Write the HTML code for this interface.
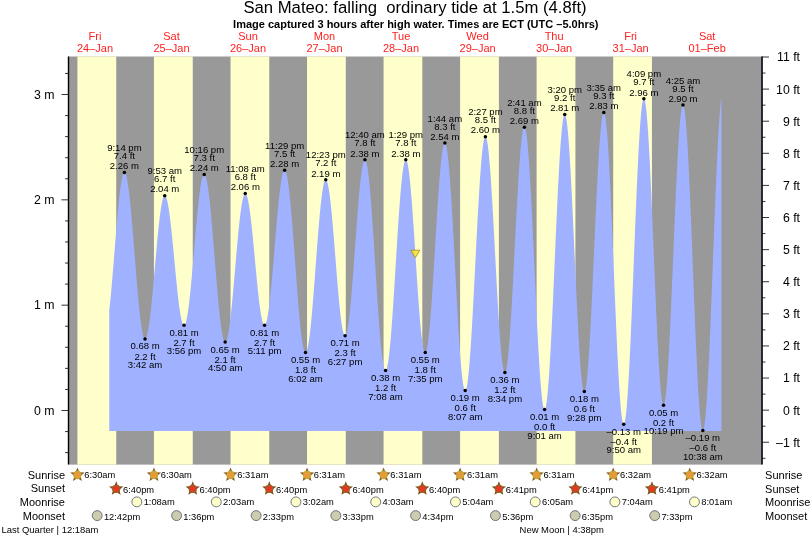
<!DOCTYPE html>
<html lang="en"><head><meta charset="utf-8"><title>San Mateo tide chart</title>
<style>html,body{margin:0;padding:0;background:#fff;}body{width:812px;height:538px;overflow:hidden;font-family:"Liberation Sans", Arial, Helvetica, sans-serif;}svg text{white-space:pre;}</style>
</head><body>
<svg width="812" height="538" viewBox="0 0 812 538" font-family='"Liberation Sans", Arial, Helvetica, sans-serif' style="display:block">
<rect width="812" height="538" fill="#fff"/>
<rect x="68.5" y="56.5" width="693.5" height="408.1" fill="#999"/>
<rect x="77.43" y="56.5" width="38.79" height="408.1" fill="#ffffcc"/>
<rect x="153.95" y="56.5" width="38.79" height="408.1" fill="#ffffcc"/>
<rect x="230.53" y="56.5" width="38.74" height="408.1" fill="#ffffcc"/>
<rect x="307.05" y="56.5" width="38.74" height="408.1" fill="#ffffcc"/>
<rect x="383.57" y="56.5" width="38.74" height="408.1" fill="#ffffcc"/>
<rect x="460.10" y="56.5" width="38.79" height="408.1" fill="#ffffcc"/>
<rect x="536.62" y="56.5" width="38.79" height="408.1" fill="#ffffcc"/>
<rect x="613.20" y="56.5" width="38.74" height="408.1" fill="#ffffcc"/>
<path d="M109.26,431.01 L109.26,310.30 L109.64,306.92 L110.02,303.35 L110.40,299.58 L110.79,295.64 L111.17,291.55 L111.55,287.31 L111.94,282.93 L112.32,278.45 L112.70,273.87 L113.08,269.21 L113.47,264.48 L113.85,259.71 L114.23,254.92 L114.61,250.11 L115.00,245.31 L115.38,240.53 L115.76,235.79 L116.14,231.12 L116.53,226.52 L116.91,222.01 L117.29,217.61 L117.67,213.34 L118.06,209.21 L118.44,205.24 L118.82,201.43 L119.21,197.81 L119.59,194.39 L119.97,191.18 L120.35,188.20 L120.74,185.44 L121.12,182.93 L121.50,180.67 L121.88,178.67 L122.27,176.95 L122.65,175.49 L123.03,174.31 L123.41,173.42 L123.80,172.82 L124.18,172.50 L124.56,172.48 L124.94,172.74 L125.33,173.28 L125.71,174.10 L126.09,175.20 L126.48,176.57 L126.86,178.21 L127.24,180.11 L127.62,182.27 L128.01,184.68 L128.39,187.33 L128.77,190.21 L129.15,193.32 L129.54,196.64 L129.92,200.15 L130.30,203.86 L130.68,207.74 L131.07,211.79 L131.45,215.98 L131.83,220.31 L132.21,224.76 L132.60,229.31 L132.98,233.95 L133.36,238.67 L133.74,243.45 L134.13,248.26 L134.51,253.11 L134.89,257.96 L135.28,262.80 L135.66,267.62 L136.04,272.39 L136.42,277.11 L136.81,281.76 L137.19,286.32 L137.57,290.78 L137.95,295.11 L138.34,299.31 L138.72,303.37 L139.10,307.26 L139.48,310.98 L139.87,314.50 L140.25,317.83 L140.63,320.95 L141.01,323.84 L141.40,326.51 L141.78,328.93 L142.16,331.10 L142.55,333.02 L142.93,334.68 L143.31,336.06 L143.69,337.18 L144.08,338.01 L144.46,338.57 L144.84,338.84 L145.22,338.84 L145.61,338.57 L145.99,338.03 L146.37,337.23 L146.75,336.16 L147.14,334.85 L147.52,333.28 L147.90,331.46 L148.28,329.41 L148.67,327.13 L149.05,324.62 L149.43,321.90 L149.81,318.98 L150.20,315.86 L150.58,312.57 L150.96,309.11 L151.35,305.49 L151.73,301.72 L152.11,297.84 L152.49,293.83 L152.88,289.73 L153.26,285.54 L153.64,281.29 L154.02,276.99 L154.41,272.64 L154.79,268.28 L155.17,263.92 L155.55,259.56 L155.94,255.24 L156.32,250.96 L156.70,246.74 L157.08,242.60 L157.47,238.54 L157.85,234.60 L158.23,230.78 L158.62,227.09 L159.00,223.55 L159.38,220.17 L159.76,216.97 L160.15,213.96 L160.53,211.14 L160.91,208.53 L161.29,206.14 L161.68,203.98 L162.06,202.05 L162.44,200.37 L162.82,198.93 L163.21,197.75 L163.59,196.82 L163.97,196.16 L164.35,195.76 L164.74,195.63 L165.12,195.75 L165.50,196.13 L165.88,196.76 L166.27,197.63 L166.65,198.75 L167.03,200.10 L167.42,201.69 L167.80,203.51 L168.18,205.55 L168.56,207.80 L168.95,210.26 L169.33,212.91 L169.71,215.74 L170.09,218.75 L170.48,221.92 L170.86,225.24 L171.24,228.70 L171.62,232.28 L172.01,235.97 L172.39,239.75 L172.77,243.61 L173.15,247.54 L173.54,251.52 L173.92,255.53 L174.30,259.56 L174.69,263.60 L175.07,267.62 L175.45,271.62 L175.83,275.57 L176.22,279.46 L176.60,283.28 L176.98,287.01 L177.36,290.63 L177.75,294.14 L178.13,297.52 L178.51,300.76 L178.89,303.83 L179.28,306.74 L179.66,309.47 L180.04,312.01 L180.42,314.35 L180.81,316.48 L181.19,318.39 L181.57,320.07 L181.95,321.53 L182.34,322.74 L182.72,323.72 L183.10,324.45 L183.49,324.93 L183.87,325.16 L184.25,325.14 L184.63,324.85 L185.02,324.29 L185.40,323.48 L185.78,322.40 L186.16,321.06 L186.55,319.47 L186.93,317.64 L187.31,315.57 L187.69,313.26 L188.08,310.73 L188.46,307.98 L188.84,305.03 L189.22,301.88 L189.61,298.55 L189.99,295.04 L190.37,291.38 L190.76,287.56 L191.14,283.62 L191.52,279.55 L191.90,275.38 L192.29,271.12 L192.67,266.79 L193.05,262.39 L193.43,257.95 L193.82,253.48 L194.20,249.00 L194.58,244.52 L194.96,240.06 L195.35,235.64 L195.73,231.26 L196.11,226.95 L196.49,222.73 L196.88,218.60 L197.26,214.58 L197.64,210.68 L198.02,206.92 L198.41,203.32 L198.79,199.88 L199.17,196.62 L199.56,193.55 L199.94,190.67 L200.32,188.01 L200.70,185.56 L201.09,183.34 L201.47,181.36 L201.85,179.62 L202.23,178.13 L202.62,176.90 L203.00,175.92 L203.38,175.20 L203.76,174.75 L204.15,174.57 L204.53,174.65 L204.91,175.01 L205.29,175.64 L205.68,176.55 L206.06,177.73 L206.44,179.17 L206.83,180.87 L207.21,182.83 L207.59,185.03 L207.97,187.48 L208.36,190.16 L208.74,193.07 L209.12,196.19 L209.50,199.51 L209.89,203.03 L210.27,206.73 L210.65,210.60 L211.03,214.63 L211.42,218.80 L211.80,223.10 L212.18,227.52 L212.56,232.04 L212.95,236.65 L213.33,241.32 L213.71,246.06 L214.09,250.83 L214.48,255.63 L214.86,260.43 L215.24,265.23 L215.63,270.01 L216.01,274.75 L216.39,279.43 L216.77,284.05 L217.16,288.58 L217.54,293.01 L217.92,297.32 L218.30,301.51 L218.69,305.55 L219.07,309.44 L219.45,313.16 L219.83,316.70 L220.22,320.05 L220.60,323.19 L220.98,326.12 L221.36,328.83 L221.75,331.30 L222.13,333.53 L222.51,335.52 L222.90,337.25 L223.28,338.72 L223.66,339.93 L224.04,340.86 L224.43,341.53 L224.81,341.92 L225.19,342.03 L225.57,341.88 L225.96,341.46 L226.34,340.78 L226.72,339.83 L227.10,338.63 L227.49,337.17 L227.87,335.46 L228.25,333.52 L228.63,331.33 L229.02,328.92 L229.40,326.29 L229.78,323.45 L230.17,320.42 L230.55,317.19 L230.93,313.79 L231.31,310.22 L231.70,306.50 L232.08,302.64 L232.46,298.66 L232.84,294.56 L233.23,290.37 L233.61,286.10 L233.99,281.77 L234.37,277.38 L234.76,272.96 L235.14,268.52 L235.52,264.08 L235.90,259.65 L236.29,255.25 L236.67,250.89 L237.05,246.60 L237.43,242.38 L237.82,238.25 L238.20,234.23 L238.58,230.33 L238.97,226.56 L239.35,222.94 L239.73,219.48 L240.11,216.19 L240.50,213.09 L240.88,210.19 L241.26,207.49 L241.64,205.00 L242.03,202.74 L242.41,200.71 L242.79,198.93 L243.17,197.39 L243.56,196.10 L243.94,195.07 L244.32,194.30 L244.70,193.79 L245.09,193.54 L245.47,193.56 L245.85,193.84 L246.24,194.37 L246.62,195.15 L247.00,196.19 L247.38,197.46 L247.77,198.98 L248.15,200.73 L248.53,202.71 L248.91,204.91 L249.30,207.32 L249.68,209.94 L250.06,212.74 L250.44,215.73 L250.83,218.88 L251.21,222.19 L251.59,225.65 L251.97,229.24 L252.36,232.94 L252.74,236.75 L253.12,240.64 L253.50,244.61 L253.89,248.63 L254.27,252.70 L254.65,256.79 L255.04,260.89 L255.42,264.98 L255.80,269.06 L256.18,273.09 L256.57,277.08 L256.95,280.99 L257.33,284.82 L257.71,288.55 L258.10,292.17 L258.48,295.66 L258.86,299.01 L259.24,302.20 L259.63,305.23 L260.01,308.08 L260.39,310.74 L260.77,313.21 L261.16,315.46 L261.54,317.49 L261.92,319.30 L262.31,320.88 L262.69,322.22 L263.07,323.31 L263.45,324.16 L263.84,324.75 L264.22,325.09 L264.60,325.18 L264.98,324.99 L265.37,324.53 L265.75,323.80 L266.13,322.79 L266.51,321.51 L266.90,319.97 L267.28,318.17 L267.66,316.12 L268.04,313.82 L268.43,311.29 L268.81,308.53 L269.19,305.56 L269.57,302.37 L269.96,298.99 L270.34,295.43 L270.72,291.69 L271.11,287.80 L271.49,283.77 L271.87,279.61 L272.25,275.33 L272.64,270.95 L273.02,266.49 L273.40,261.97 L273.78,257.39 L274.17,252.78 L274.55,248.15 L274.93,243.52 L275.31,238.91 L275.70,234.32 L276.08,229.79 L276.46,225.32 L276.84,220.92 L277.23,216.63 L277.61,212.45 L277.99,208.39 L278.38,204.47 L278.76,200.71 L279.14,197.12 L279.52,193.71 L279.91,190.49 L280.29,187.48 L280.67,184.68 L281.05,182.11 L281.44,179.78 L281.82,177.68 L282.20,175.84 L282.58,174.26 L282.97,172.94 L283.35,171.88 L283.73,171.10 L284.11,170.59 L284.50,170.36 L284.88,170.41 L285.26,170.77 L285.64,171.42 L286.03,172.37 L286.41,173.61 L286.79,175.15 L287.18,176.97 L287.56,179.07 L287.94,181.45 L288.32,184.09 L288.71,186.99 L289.09,190.13 L289.47,193.51 L289.85,197.11 L290.24,200.93 L290.62,204.94 L291.00,209.15 L291.38,213.53 L291.77,218.06 L292.15,222.74 L292.53,227.55 L292.91,232.47 L293.30,237.49 L293.68,242.59 L294.06,247.75 L294.45,252.95 L294.83,258.18 L295.21,263.42 L295.59,268.66 L295.98,273.87 L296.36,279.05 L296.74,284.16 L297.12,289.20 L297.51,294.14 L297.89,298.98 L298.27,303.69 L298.65,308.27 L299.04,312.69 L299.42,316.94 L299.80,321.00 L300.18,324.87 L300.57,328.53 L300.95,331.97 L301.33,335.17 L301.71,338.13 L302.10,340.83 L302.48,343.27 L302.86,345.44 L303.25,347.34 L303.63,348.94 L304.01,350.26 L304.39,351.29 L304.78,352.01 L305.16,352.44 L305.54,352.57 L305.92,352.39 L306.31,351.91 L306.69,351.13 L307.07,350.04 L307.45,348.67 L307.84,347.00 L308.22,345.04 L308.60,342.81 L308.98,340.31 L309.37,337.55 L309.75,334.54 L310.13,331.28 L310.52,327.80 L310.90,324.10 L311.28,320.19 L311.66,316.10 L312.05,311.83 L312.43,307.39 L312.81,302.82 L313.19,298.11 L313.58,293.29 L313.96,288.38 L314.34,283.39 L314.72,278.34 L315.11,273.24 L315.49,268.12 L315.87,262.99 L316.25,257.88 L316.64,252.79 L317.02,247.75 L317.40,242.78 L317.79,237.89 L318.17,233.10 L318.55,228.42 L318.93,223.88 L319.32,219.49 L319.70,215.26 L320.08,211.21 L320.46,207.35 L320.85,203.71 L321.23,200.28 L321.61,197.08 L321.99,194.13 L322.38,191.43 L322.76,189.00 L323.14,186.84 L323.52,184.96 L323.91,183.36 L324.29,182.05 L324.67,181.05 L325.05,180.34 L325.44,179.93 L325.82,179.83 L326.20,180.03 L326.59,180.53 L326.97,181.33 L327.35,182.43 L327.73,183.81 L328.12,185.48 L328.50,187.43 L328.88,189.65 L329.26,192.13 L329.65,194.87 L330.03,197.85 L330.41,201.06 L330.79,204.49 L331.18,208.13 L331.56,211.96 L331.94,215.96 L332.32,220.13 L332.71,224.44 L333.09,228.88 L333.47,233.43 L333.86,238.07 L334.24,242.80 L334.62,247.58 L335.00,252.39 L335.39,257.23 L335.77,262.07 L336.15,266.90 L336.53,271.69 L336.92,276.42 L337.30,281.09 L337.68,285.66 L338.06,290.13 L338.45,294.47 L338.83,298.67 L339.21,302.71 L339.59,306.58 L339.98,310.26 L340.36,313.74 L340.74,317.00 L341.12,320.03 L341.51,322.82 L341.89,325.36 L342.27,327.64 L342.66,329.65 L343.04,331.39 L343.42,332.83 L343.80,333.99 L344.19,334.86 L344.57,335.43 L344.95,335.69 L345.33,335.66 L345.72,335.30 L346.10,334.62 L346.48,333.62 L346.86,332.30 L347.25,330.67 L347.63,328.74 L348.01,326.51 L348.39,323.99 L348.78,321.20 L349.16,318.13 L349.54,314.80 L349.93,311.23 L350.31,307.42 L350.69,303.39 L351.07,299.16 L351.46,294.74 L351.84,290.15 L352.22,285.40 L352.60,280.51 L352.99,275.51 L353.37,270.40 L353.75,265.20 L354.13,259.95 L354.52,254.65 L354.90,249.32 L355.28,243.99 L355.66,238.67 L356.05,233.39 L356.43,228.15 L356.81,222.99 L357.19,217.92 L357.58,212.96 L357.96,208.13 L358.34,203.45 L358.73,198.93 L359.11,194.58 L359.49,190.43 L359.87,186.50 L360.26,182.79 L360.64,179.31 L361.02,176.09 L361.40,173.14 L361.79,170.45 L362.17,168.05 L362.55,165.95 L362.93,164.14 L363.32,162.64 L363.70,161.46 L364.08,160.59 L364.46,160.05 L364.85,159.82 L365.23,159.93 L365.61,160.40 L366.00,161.22 L366.38,162.40 L366.76,163.92 L367.14,165.79 L367.53,168.00 L367.91,170.53 L368.29,173.39 L368.67,176.56 L369.06,180.03 L369.44,183.79 L369.82,187.83 L370.20,192.13 L370.59,196.67 L370.97,201.45 L371.35,206.45 L371.73,211.64 L372.12,217.02 L372.50,222.56 L372.88,228.25 L373.26,234.06 L373.65,239.98 L374.03,245.98 L374.41,252.04 L374.80,258.16 L375.18,264.29 L375.56,270.43 L375.94,276.55 L376.33,282.63 L376.71,288.65 L377.09,294.60 L377.47,300.44 L377.86,306.16 L378.24,311.74 L378.62,317.17 L379.00,322.42 L379.39,327.47 L379.77,332.31 L380.15,336.92 L380.53,341.29 L380.92,345.40 L381.30,349.24 L381.68,352.79 L382.07,356.05 L382.45,358.99 L382.83,361.62 L383.21,363.92 L383.60,365.88 L383.98,367.50 L384.36,368.78 L384.74,369.70 L385.13,370.26 L385.51,370.47 L385.89,370.32 L386.27,369.79 L386.66,368.90 L387.04,367.64 L387.42,366.02 L387.80,364.04 L388.19,361.72 L388.57,359.05 L388.95,356.06 L389.33,352.74 L389.72,349.12 L390.10,345.20 L390.48,340.99 L390.87,336.52 L391.25,331.80 L391.63,326.85 L392.01,321.67 L392.40,316.30 L392.78,310.74 L393.16,305.03 L393.54,299.18 L393.93,293.20 L394.31,287.13 L394.69,280.98 L395.07,274.77 L395.46,268.53 L395.84,262.28 L396.22,256.04 L396.60,249.83 L396.99,243.67 L397.37,237.59 L397.75,231.61 L398.14,225.74 L398.52,220.01 L398.90,214.45 L399.28,209.06 L399.67,203.87 L400.05,198.89 L400.43,194.15 L400.81,189.66 L401.20,185.43 L401.58,181.49 L401.96,177.84 L402.34,174.50 L402.73,171.47 L403.11,168.78 L403.49,166.43 L403.87,164.42 L404.26,162.77 L404.64,161.48 L405.02,160.56 L405.40,160.00 L405.79,159.81 L406.17,160.00 L406.55,160.55 L406.94,161.47 L407.32,162.74 L407.70,164.38 L408.08,166.36 L408.47,168.69 L408.85,171.36 L409.23,174.34 L409.61,177.64 L410.00,181.24 L410.38,185.13 L410.76,189.28 L411.14,193.69 L411.53,198.34 L411.91,203.22 L412.29,208.29 L412.67,213.55 L413.06,218.97 L413.44,224.53 L413.82,230.21 L414.21,235.99 L414.59,241.85 L414.97,247.76 L415.35,253.71 L415.74,259.67 L416.12,265.61 L416.50,271.51 L416.88,277.36 L417.27,283.13 L417.65,288.79 L418.03,294.33 L418.41,299.72 L418.80,304.95 L419.18,309.99 L419.56,314.83 L419.94,319.44 L420.33,323.81 L420.71,327.92 L421.09,331.76 L421.48,335.31 L421.86,338.56 L422.24,341.49 L422.62,344.10 L423.01,346.37 L423.39,348.30 L423.77,349.88 L424.15,351.09 L424.54,351.95 L424.92,352.44 L425.30,352.56 L425.68,352.30 L426.07,351.65 L426.45,350.60 L426.83,349.17 L427.21,347.36 L427.60,345.17 L427.98,342.62 L428.36,339.71 L428.74,336.45 L429.13,332.87 L429.51,328.96 L429.89,324.75 L430.28,320.25 L430.66,315.47 L431.04,310.44 L431.42,305.18 L431.81,299.70 L432.19,294.03 L432.57,288.18 L432.95,282.18 L433.34,276.05 L433.72,269.82 L434.10,263.50 L434.48,257.12 L434.87,250.71 L435.25,244.29 L435.63,237.88 L436.01,231.50 L436.40,225.19 L436.78,218.96 L437.16,212.84 L437.55,206.86 L437.93,201.02 L438.31,195.36 L438.69,189.90 L439.08,184.66 L439.46,179.65 L439.84,174.90 L440.22,170.42 L440.61,166.23 L440.99,162.35 L441.37,158.79 L441.75,155.57 L442.14,152.69 L442.52,150.16 L442.90,148.01 L443.28,146.23 L443.67,144.83 L444.05,143.82 L444.43,143.19 L444.81,142.96 L445.20,143.14 L445.58,143.75 L445.96,144.79 L446.35,146.26 L446.73,148.14 L447.11,150.44 L447.49,153.14 L447.88,156.24 L448.26,159.73 L448.64,163.59 L449.02,167.81 L449.41,172.37 L449.79,177.26 L450.17,182.46 L450.55,187.96 L450.94,193.73 L451.32,199.76 L451.70,206.02 L452.08,212.49 L452.47,219.15 L452.85,225.98 L453.23,232.95 L453.62,240.03 L454.00,247.21 L454.38,254.46 L454.76,261.75 L455.15,269.06 L455.53,276.36 L455.91,283.63 L456.29,290.83 L456.68,297.96 L457.06,304.97 L457.44,311.85 L457.82,318.57 L458.21,325.12 L458.59,331.46 L458.97,337.57 L459.35,343.43 L459.74,349.03 L460.12,354.35 L460.50,359.35 L460.88,364.04 L461.27,368.38 L461.65,372.37 L462.03,375.99 L462.42,379.23 L462.80,382.08 L463.18,384.52 L463.56,386.56 L463.95,388.18 L464.33,389.37 L464.71,390.14 L465.09,390.47 L465.48,390.37 L465.86,389.82 L466.24,388.82 L466.62,387.38 L467.01,385.51 L467.39,383.20 L467.77,380.46 L468.15,377.31 L468.54,373.76 L468.92,369.82 L469.30,365.50 L469.69,360.82 L470.07,355.80 L470.45,350.45 L470.83,344.79 L471.22,338.85 L471.60,332.63 L471.98,326.18 L472.36,319.50 L472.75,312.62 L473.13,305.57 L473.51,298.37 L473.89,291.05 L474.28,283.63 L474.66,276.14 L475.04,268.60 L475.42,261.05 L475.81,253.50 L476.19,245.99 L476.57,238.55 L476.95,231.19 L477.34,223.94 L477.72,216.84 L478.10,209.90 L478.49,203.16 L478.87,196.62 L479.25,190.33 L479.63,184.29 L480.02,178.53 L480.40,173.08 L480.78,167.94 L481.16,163.15 L481.55,158.71 L481.93,154.64 L482.31,150.96 L482.69,147.67 L483.08,144.80 L483.46,142.35 L483.84,140.32 L484.22,138.74 L484.61,137.59 L484.99,136.89 L485.37,136.64 L485.76,136.84 L486.14,137.49 L486.52,138.58 L486.90,140.11 L487.29,142.08 L487.67,144.47 L488.05,147.28 L488.43,150.50 L488.82,154.12 L489.20,158.12 L489.58,162.48 L489.96,167.19 L490.35,172.24 L490.73,177.59 L491.11,183.24 L491.49,189.17 L491.88,195.34 L492.26,201.73 L492.64,208.33 L493.02,215.10 L493.41,222.02 L493.79,229.06 L494.17,236.21 L494.56,243.42 L494.94,250.67 L495.32,257.94 L495.70,265.20 L496.09,272.42 L496.47,279.57 L496.85,286.62 L497.23,293.55 L497.62,300.34 L498.00,306.95 L498.38,313.36 L498.76,319.55 L499.15,325.50 L499.53,331.17 L499.91,336.55 L500.29,341.62 L500.68,346.37 L501.06,350.76 L501.44,354.79 L501.83,358.43 L502.21,361.69 L502.59,364.53 L502.97,366.96 L503.36,368.96 L503.74,370.53 L504.12,371.66 L504.50,372.34 L504.89,372.58 L505.27,372.36 L505.65,371.68 L506.03,370.53 L506.42,368.92 L506.80,366.86 L507.18,364.36 L507.56,361.42 L507.95,358.06 L508.33,354.29 L508.71,350.12 L509.10,345.58 L509.48,340.66 L509.86,335.41 L510.24,329.82 L510.63,323.94 L511.01,317.77 L511.39,311.35 L511.77,304.69 L512.16,297.82 L512.54,290.78 L512.92,283.57 L513.30,276.24 L513.69,268.81 L514.07,261.30 L514.45,253.76 L514.83,246.20 L515.22,238.65 L515.60,231.14 L515.98,223.71 L516.36,216.37 L516.75,209.17 L517.13,202.11 L517.51,195.24 L517.90,188.58 L518.28,182.15 L518.66,175.97 L519.04,170.08 L519.43,164.49 L519.81,159.22 L520.19,154.30 L520.57,149.74 L520.96,145.56 L521.34,141.78 L521.72,138.41 L522.10,135.46 L522.49,132.94 L522.87,130.87 L523.25,129.25 L523.63,128.09 L524.02,127.40 L524.40,127.16 L524.78,127.41 L525.17,128.16 L525.55,129.41 L525.93,131.14 L526.31,133.37 L526.70,136.07 L527.08,139.24 L527.46,142.87 L527.84,146.94 L528.23,151.44 L528.61,156.35 L528.99,161.66 L529.37,167.35 L529.76,173.40 L530.14,179.78 L530.52,186.48 L530.90,193.47 L531.29,200.72 L531.67,208.21 L532.05,215.91 L532.43,223.80 L532.82,231.85 L533.20,240.03 L533.58,248.30 L533.97,256.65 L534.35,265.04 L534.73,273.44 L535.11,281.82 L535.50,290.15 L535.88,298.41 L536.26,306.56 L536.64,314.57 L537.03,322.43 L537.41,330.08 L537.79,337.52 L538.17,344.72 L538.56,351.64 L538.94,358.27 L539.32,364.58 L539.70,370.55 L540.09,376.16 L540.47,381.38 L540.85,386.21 L541.24,390.61 L541.62,394.59 L542.00,398.11 L542.38,401.18 L542.77,403.78 L543.15,405.89 L543.53,407.52 L543.91,408.66 L544.30,409.30 L544.68,409.43 L545.06,409.05 L545.44,408.15 L545.83,406.73 L546.21,404.79 L546.59,402.34 L546.97,399.40 L547.36,395.96 L547.74,392.05 L548.12,387.67 L548.50,382.84 L548.89,377.59 L549.27,371.92 L549.65,365.87 L550.04,359.44 L550.42,352.66 L550.80,345.57 L551.18,338.17 L551.57,330.51 L551.95,322.60 L552.33,314.47 L552.71,306.16 L553.10,297.69 L553.48,289.09 L553.86,280.39 L554.24,271.63 L554.63,262.84 L555.01,254.04 L555.39,245.27 L555.77,236.57 L556.16,227.95 L556.54,219.45 L556.92,211.10 L557.31,202.94 L557.69,194.98 L558.07,187.27 L558.45,179.82 L558.84,172.66 L559.22,165.82 L559.60,159.32 L559.98,153.19 L560.37,147.45 L560.75,142.11 L561.13,137.20 L561.51,132.74 L561.90,128.73 L562.28,125.20 L562.66,122.16 L563.04,119.62 L563.43,117.58 L563.81,116.05 L564.19,115.05 L564.57,114.57 L564.96,114.61 L565.34,115.18 L565.72,116.27 L566.11,117.87 L566.49,119.98 L566.87,122.60 L567.25,125.71 L567.64,129.30 L568.02,133.36 L568.40,137.87 L568.78,142.81 L569.17,148.17 L569.55,153.93 L569.93,160.06 L570.31,166.54 L570.70,173.35 L571.08,180.46 L571.46,187.84 L571.84,195.47 L572.23,203.32 L572.61,211.36 L572.99,219.55 L573.38,227.87 L573.76,236.28 L574.14,244.76 L574.52,253.27 L574.91,261.78 L575.29,270.25 L575.67,278.66 L576.05,286.97 L576.44,295.16 L576.82,303.18 L577.20,311.02 L577.58,318.64 L577.97,326.01 L578.35,333.10 L578.73,339.89 L579.11,346.35 L579.50,352.47 L579.88,358.20 L580.26,363.54 L580.64,368.46 L581.03,372.94 L581.41,376.98 L581.79,380.54 L582.18,383.62 L582.56,386.21 L582.94,388.30 L583.32,389.87 L583.71,390.93 L584.09,391.47 L584.47,391.48 L584.85,390.97 L585.24,389.92 L585.62,388.36 L586.00,386.27 L586.38,383.68 L586.77,380.58 L587.15,377.00 L587.53,372.94 L587.91,368.43 L588.30,363.47 L588.68,358.08 L589.06,352.30 L589.45,346.13 L589.83,339.61 L590.21,332.75 L590.59,325.59 L590.98,318.14 L591.36,310.45 L591.74,302.53 L592.12,294.42 L592.51,286.15 L592.89,277.75 L593.27,269.26 L593.65,260.69 L594.04,252.10 L594.42,243.50 L594.80,234.94 L595.18,226.44 L595.57,218.03 L595.95,209.76 L596.33,201.65 L596.71,193.73 L597.10,186.02 L597.48,178.57 L597.86,171.40 L598.25,164.54 L598.63,158.00 L599.01,151.83 L599.39,146.03 L599.78,140.63 L600.16,135.66 L600.54,131.13 L600.92,127.06 L601.31,123.47 L601.69,120.36 L602.07,117.75 L602.45,115.65 L602.84,114.07 L603.22,113.01 L603.60,112.48 L603.98,112.49 L604.37,113.05 L604.75,114.19 L605.13,115.88 L605.52,118.12 L605.90,120.92 L606.28,124.24 L606.66,128.10 L607.05,132.46 L607.43,137.32 L607.81,142.65 L608.19,148.44 L608.58,154.67 L608.96,161.31 L609.34,168.33 L609.72,175.73 L610.11,183.46 L610.49,191.49 L610.87,199.81 L611.25,208.38 L611.64,217.16 L612.02,226.13 L612.40,235.26 L612.79,244.50 L613.17,253.83 L613.55,263.21 L613.93,272.61 L614.32,282.00 L614.70,291.34 L615.08,300.59 L615.46,309.72 L615.85,318.71 L616.23,327.51 L616.61,336.09 L616.99,344.43 L617.38,352.49 L617.76,360.25 L618.14,367.67 L618.52,374.73 L618.91,381.40 L619.29,387.67 L619.67,393.49 L620.05,398.87 L620.44,403.76 L620.82,408.17 L621.20,412.06 L621.59,415.44 L621.97,418.27 L622.35,420.57 L622.73,422.30 L623.12,423.48 L623.50,424.10 L623.88,424.14 L624.26,423.61 L624.65,422.50 L625.03,420.82 L625.41,418.57 L625.79,415.76 L626.18,412.40 L626.56,408.51 L626.94,404.09 L627.32,399.16 L627.71,393.74 L628.09,387.86 L628.47,381.52 L628.86,374.75 L629.24,367.58 L629.62,360.03 L630.00,352.13 L630.39,343.91 L630.77,335.40 L631.15,326.62 L631.53,317.61 L631.92,308.40 L632.30,299.02 L632.68,289.51 L633.06,279.90 L633.45,270.22 L633.83,260.51 L634.21,250.81 L634.59,241.14 L634.98,231.55 L635.36,222.06 L635.74,212.71 L636.12,203.54 L636.51,194.57 L636.89,185.84 L637.27,177.38 L637.66,169.22 L638.04,161.39 L638.42,153.91 L638.80,146.82 L639.19,140.13 L639.57,133.88 L639.95,128.08 L640.33,122.76 L640.72,117.93 L641.10,113.61 L641.48,109.82 L641.86,106.56 L642.25,103.86 L642.63,101.72 L643.01,100.15 L643.39,99.16 L643.78,98.74 L644.16,98.90 L644.54,99.63 L644.93,100.93 L645.31,102.79 L645.69,105.21 L646.07,108.18 L646.46,111.69 L646.84,115.72 L647.22,120.26 L647.60,125.30 L647.99,130.80 L648.37,136.76 L648.75,143.15 L649.13,149.95 L649.52,157.12 L649.90,164.66 L650.28,172.51 L650.66,180.67 L651.05,189.09 L651.43,197.75 L651.81,206.60 L652.19,215.63 L652.58,224.80 L652.96,234.06 L653.34,243.39 L653.73,252.76 L654.11,262.12 L654.49,271.44 L654.87,280.70 L655.26,289.84 L655.64,298.84 L656.02,307.67 L656.40,316.29 L656.79,324.67 L657.17,332.77 L657.55,340.58 L657.93,348.05 L658.32,355.17 L658.70,361.90 L659.08,368.22 L659.46,374.10 L659.85,379.53 L660.23,384.48 L660.61,388.94 L661.00,392.89 L661.38,396.30 L661.76,399.18 L662.14,401.51 L662.53,403.29 L662.91,404.49 L663.29,405.13 L663.67,405.19 L664.06,404.68 L664.44,403.60 L664.82,401.95 L665.20,399.75 L665.59,396.99 L665.97,393.68 L666.35,389.85 L666.73,385.51 L667.12,380.67 L667.50,375.34 L667.88,369.56 L668.26,363.35 L668.65,356.72 L669.03,349.70 L669.41,342.32 L669.80,334.60 L670.18,326.59 L670.56,318.30 L670.94,309.77 L671.33,301.03 L671.71,292.12 L672.09,283.06 L672.47,273.90 L672.86,264.67 L673.24,255.40 L673.62,246.13 L674.00,236.89 L674.39,227.72 L674.77,218.66 L675.15,209.74 L675.53,200.99 L675.92,192.45 L676.30,184.14 L676.68,176.11 L677.07,168.38 L677.45,160.98 L677.83,153.94 L678.21,147.29 L678.60,141.05 L678.98,135.24 L679.36,129.89 L679.74,125.02 L680.13,120.65 L680.51,116.79 L680.89,113.46 L681.27,110.67 L681.66,108.43 L682.04,106.75 L682.42,105.64 L682.80,105.10 L683.19,105.14 L683.57,105.77 L683.95,106.99 L684.33,108.81 L684.72,111.21 L685.10,114.19 L685.48,117.73 L685.87,121.83 L686.25,126.46 L686.63,131.61 L687.01,137.26 L687.40,143.39 L687.78,149.98 L688.16,157.00 L688.54,164.43 L688.93,172.24 L689.31,180.40 L689.69,188.88 L690.07,197.65 L690.46,206.68 L690.84,215.93 L691.22,225.37 L691.60,234.97 L691.99,244.69 L692.37,254.50 L692.75,264.35 L693.14,274.22 L693.52,284.06 L693.90,293.84 L694.28,303.53 L694.67,313.09 L695.05,322.48 L695.43,331.66 L695.81,340.62 L696.20,349.30 L696.58,357.69 L696.96,365.74 L697.34,373.44 L697.73,380.75 L698.11,387.64 L698.49,394.09 L698.87,400.07 L699.26,405.57 L699.64,410.57 L700.02,415.04 L700.41,418.96 L700.79,422.33 L701.17,425.14 L701.55,427.36 L701.94,429.00 L702.32,430.05 L702.70,430.49 L703.08,430.35 L703.47,429.60 L703.85,428.27 L704.23,426.35 L704.61,423.85 L705.00,420.78 L705.38,417.15 L705.76,412.97 L706.14,408.26 L706.53,403.03 L706.91,397.30 L707.29,391.10 L707.67,384.44 L708.06,377.34 L708.44,369.84 L708.82,361.96 L709.21,353.72 L709.59,345.16 L709.97,336.30 L710.35,327.18 L710.74,317.82 L711.12,308.27 L711.50,298.55 L711.88,288.70 L712.27,278.75 L712.65,268.74 L713.03,258.70 L713.41,248.67 L713.80,238.68 L714.18,228.77 L714.56,218.97 L714.94,209.32 L715.33,199.86 L715.71,190.60 L716.09,181.59 L716.48,172.86 L716.86,164.44 L717.24,156.36 L717.62,148.64 L718.01,141.32 L718.39,134.41 L718.77,127.95 L719.15,121.96 L719.54,116.45 L719.92,111.45 L720.30,106.97 L720.68,103.03 L721.07,99.65 L721.45,96.83 L721.45,431.01 Z" fill="#a0b2ff"/>
<g stroke="#000" stroke-width="1.4" fill="none">
<line x1="68.5" y1="56.5" x2="68.5" y2="464.6"/>
<line x1="762.0" y1="56.5" x2="762.0" y2="464.6" stroke="#181828" stroke-width="1.8"/>
</g>
<g stroke="#111" stroke-width="0.85" fill="none">
<line x1="65.0" y1="452.63" x2="68.5" y2="452.63"/>
<line x1="65.0" y1="431.57" x2="68.5" y2="431.57"/>
<line x1="61.5" y1="410.50" x2="68.5" y2="410.50"/>
<line x1="65.0" y1="389.43" x2="68.5" y2="389.43"/>
<line x1="65.0" y1="368.37" x2="68.5" y2="368.37"/>
<line x1="65.0" y1="347.30" x2="68.5" y2="347.30"/>
<line x1="65.0" y1="326.24" x2="68.5" y2="326.24"/>
<line x1="61.5" y1="305.17" x2="68.5" y2="305.17"/>
<line x1="65.0" y1="284.10" x2="68.5" y2="284.10"/>
<line x1="65.0" y1="263.04" x2="68.5" y2="263.04"/>
<line x1="65.0" y1="241.97" x2="68.5" y2="241.97"/>
<line x1="65.0" y1="220.91" x2="68.5" y2="220.91"/>
<line x1="61.5" y1="199.84" x2="68.5" y2="199.84"/>
<line x1="65.0" y1="178.77" x2="68.5" y2="178.77"/>
<line x1="65.0" y1="157.71" x2="68.5" y2="157.71"/>
<line x1="65.0" y1="136.64" x2="68.5" y2="136.64"/>
<line x1="65.0" y1="115.58" x2="68.5" y2="115.58"/>
<line x1="61.5" y1="94.51" x2="68.5" y2="94.51"/>
<line x1="65.0" y1="73.44" x2="68.5" y2="73.44"/>
<line x1="762.0" y1="458.31" x2="765.5" y2="458.31"/>
<line x1="762.0" y1="442.25" x2="769.0" y2="442.25"/>
<line x1="762.0" y1="426.20" x2="765.5" y2="426.20"/>
<line x1="762.0" y1="410.15" x2="769.0" y2="410.15"/>
<line x1="762.0" y1="394.10" x2="765.5" y2="394.10"/>
<line x1="762.0" y1="378.05" x2="769.0" y2="378.05"/>
<line x1="762.0" y1="361.99" x2="765.5" y2="361.99"/>
<line x1="762.0" y1="345.94" x2="769.0" y2="345.94"/>
<line x1="762.0" y1="329.89" x2="765.5" y2="329.89"/>
<line x1="762.0" y1="313.84" x2="769.0" y2="313.84"/>
<line x1="762.0" y1="297.78" x2="765.5" y2="297.78"/>
<line x1="762.0" y1="281.73" x2="769.0" y2="281.73"/>
<line x1="762.0" y1="265.68" x2="765.5" y2="265.68"/>
<line x1="762.0" y1="249.63" x2="769.0" y2="249.63"/>
<line x1="762.0" y1="233.57" x2="765.5" y2="233.57"/>
<line x1="762.0" y1="217.52" x2="769.0" y2="217.52"/>
<line x1="762.0" y1="201.47" x2="765.5" y2="201.47"/>
<line x1="762.0" y1="185.42" x2="769.0" y2="185.42"/>
<line x1="762.0" y1="169.37" x2="765.5" y2="169.37"/>
<line x1="762.0" y1="153.31" x2="769.0" y2="153.31"/>
<line x1="762.0" y1="137.26" x2="765.5" y2="137.26"/>
<line x1="762.0" y1="121.21" x2="769.0" y2="121.21"/>
<line x1="762.0" y1="105.16" x2="765.5" y2="105.16"/>
<line x1="762.0" y1="89.10" x2="769.0" y2="89.10"/>
<line x1="762.0" y1="73.05" x2="765.5" y2="73.05"/>
<line x1="762.0" y1="57.00" x2="769.0" y2="57.00"/>
</g>
<g font-size="12.3" fill="#000">
<text x="54.6" y="414.60" text-anchor="end">0 m</text>
<text x="54.6" y="309.27" text-anchor="end">1 m</text>
<text x="54.6" y="203.94" text-anchor="end">2 m</text>
<text x="54.6" y="98.61" text-anchor="end">3 m</text>
<text x="800" y="446.65" text-anchor="end">–1 ft</text>
<text x="800" y="414.55" text-anchor="end">0 ft</text>
<text x="800" y="382.45" text-anchor="end">1 ft</text>
<text x="800" y="350.34" text-anchor="end">2 ft</text>
<text x="800" y="318.24" text-anchor="end">3 ft</text>
<text x="800" y="286.13" text-anchor="end">4 ft</text>
<text x="800" y="254.03" text-anchor="end">5 ft</text>
<text x="800" y="221.92" text-anchor="end">6 ft</text>
<text x="800" y="189.82" text-anchor="end">7 ft</text>
<text x="800" y="157.71" text-anchor="end">8 ft</text>
<text x="800" y="125.61" text-anchor="end">9 ft</text>
<text x="800" y="93.50" text-anchor="end">10 ft</text>
<text x="800" y="61.40" text-anchor="end">11 ft</text>
</g>
<text x="415" y="12.8" font-size="16.7" text-anchor="middle" style="white-space:pre">San Mateo: falling  ordinary tide at 1.5m (4.8ft)</text>
<text x="415.8" y="27.6" font-size="11" font-weight="bold" text-anchor="middle">Image captured 3 hours after high water. Times are ECT (UTC –5.0hrs)</text>
<g font-size="11" fill="#ff2020" text-anchor="middle">
<text x="94.96" y="40.2">Fri</text>
<text x="94.96" y="52.2">24–Jan</text>
<text x="171.49" y="40.2">Sat</text>
<text x="171.49" y="52.2">25–Jan</text>
<text x="248.01" y="40.2">Sun</text>
<text x="248.01" y="52.2">26–Jan</text>
<text x="324.53" y="40.2">Mon</text>
<text x="324.53" y="52.2">27–Jan</text>
<text x="401.06" y="40.2">Tue</text>
<text x="401.06" y="52.2">28–Jan</text>
<text x="477.58" y="40.2">Wed</text>
<text x="477.58" y="52.2">29–Jan</text>
<text x="554.11" y="40.2">Thu</text>
<text x="554.11" y="52.2">30–Jan</text>
<text x="630.63" y="40.2">Fri</text>
<text x="630.63" y="52.2">31–Jan</text>
<text x="707.15" y="40.2">Sat</text>
<text x="707.15" y="52.2">01–Feb</text>
</g>
<g font-size="9.55" fill="#000" text-anchor="middle">
<text x="124.40" y="151.00">9:14 pm</text>
<text x="124.40" y="159.10">7.4 ft</text>
<text x="124.40" y="169.30">2.26 m</text>
<text x="145.02" y="349.43">0.68 m</text>
<text x="145.02" y="359.63">2.2 ft</text>
<text x="145.02" y="368.03">3:42 am</text>
<text x="164.74" y="174.18">9:53 am</text>
<text x="164.74" y="182.28">6.7 ft</text>
<text x="164.74" y="192.48">2.04 m</text>
<text x="184.03" y="335.73">0.81 m</text>
<text x="184.03" y="345.93">2.7 ft</text>
<text x="184.03" y="354.33">3:56 pm</text>
<text x="204.22" y="153.11">10:16 pm</text>
<text x="204.22" y="161.21">7.3 ft</text>
<text x="204.22" y="171.41">2.24 m</text>
<text x="225.16" y="352.59">0.65 m</text>
<text x="225.16" y="362.79">2.1 ft</text>
<text x="225.16" y="371.19">4:50 am</text>
<text x="245.25" y="172.07">11:08 am</text>
<text x="245.25" y="180.17">6.8 ft</text>
<text x="245.25" y="190.37">2.06 m</text>
<text x="264.54" y="335.73">0.81 m</text>
<text x="264.54" y="345.93">2.7 ft</text>
<text x="264.54" y="354.33">5:11 pm</text>
<text x="284.62" y="148.90">11:29 pm</text>
<text x="284.62" y="157.00">7.5 ft</text>
<text x="284.62" y="167.20">2.28 m</text>
<text x="305.51" y="363.12">0.55 m</text>
<text x="305.51" y="373.32">1.8 ft</text>
<text x="305.51" y="381.72">6:02 am</text>
<text x="325.76" y="158.38">12:23 pm</text>
<text x="325.76" y="166.48">7.2 ft</text>
<text x="325.76" y="176.68">2.19 m</text>
<text x="345.10" y="346.27">0.71 m</text>
<text x="345.10" y="356.47">2.3 ft</text>
<text x="345.10" y="364.87">6:27 pm</text>
<text x="364.92" y="138.36">12:40 am</text>
<text x="364.92" y="146.46">7.8 ft</text>
<text x="364.92" y="156.66">2.38 m</text>
<text x="385.54" y="381.02">0.38 m</text>
<text x="385.54" y="391.22">1.2 ft</text>
<text x="385.54" y="399.62">7:08 am</text>
<text x="405.79" y="138.36">1:29 pm</text>
<text x="405.79" y="146.46">7.8 ft</text>
<text x="405.79" y="156.66">2.38 m</text>
<text x="425.24" y="363.12">0.55 m</text>
<text x="425.24" y="373.32">1.8 ft</text>
<text x="425.24" y="381.72">7:35 pm</text>
<text x="444.85" y="121.51">1:44 am</text>
<text x="444.85" y="129.61">8.3 ft</text>
<text x="444.85" y="139.81">2.54 m</text>
<text x="465.20" y="401.04">0.19 m</text>
<text x="465.20" y="411.24">0.6 ft</text>
<text x="465.20" y="419.64">8:07 am</text>
<text x="485.39" y="115.19">2:27 pm</text>
<text x="485.39" y="123.29">8.5 ft</text>
<text x="485.39" y="133.49">2.60 m</text>
<text x="504.90" y="383.13">0.36 m</text>
<text x="504.90" y="393.33">1.2 ft</text>
<text x="504.90" y="401.73">8:34 pm</text>
<text x="524.40" y="105.71">2:41 am</text>
<text x="524.40" y="113.81">8.8 ft</text>
<text x="524.40" y="124.01">2.69 m</text>
<text x="544.59" y="420.00">0.01 m</text>
<text x="544.59" y="430.20">0.0 ft</text>
<text x="544.59" y="438.60">9:01 am</text>
<text x="564.73" y="93.07">3:20 pm</text>
<text x="564.73" y="101.17">9.2 ft</text>
<text x="564.73" y="111.37">2.81 m</text>
<text x="584.29" y="402.09">0.18 m</text>
<text x="584.29" y="412.29">0.6 ft</text>
<text x="584.29" y="420.69">9:28 pm</text>
<text x="603.79" y="90.97">3:35 am</text>
<text x="603.79" y="99.07">9.3 ft</text>
<text x="603.79" y="109.27">2.83 m</text>
<text x="623.72" y="434.74">–0.13 m</text>
<text x="623.72" y="444.94">–0.4 ft</text>
<text x="623.72" y="453.34">9:50 am</text>
<text x="643.86" y="77.27">4:09 pm</text>
<text x="643.86" y="85.37">9.7 ft</text>
<text x="643.86" y="95.57">2.96 m</text>
<text x="663.52" y="415.78">0.05 m</text>
<text x="663.52" y="425.98">0.2 ft</text>
<text x="663.52" y="434.38">10:19 pm</text>
<text x="682.97" y="83.59">4:25 am</text>
<text x="682.97" y="91.69">9.5 ft</text>
<text x="682.97" y="101.89">2.90 m</text>
<text x="702.80" y="441.06">–0.19 m</text>
<text x="702.80" y="451.26">–0.6 ft</text>
<text x="702.80" y="459.66">10:38 am</text>
</g>
<circle cx="124.40" cy="172.45" r="1.75" fill="#000"/>
<circle cx="145.02" cy="338.88" r="1.75" fill="#000"/>
<circle cx="164.74" cy="195.63" r="1.75" fill="#000"/>
<circle cx="184.03" cy="325.18" r="1.75" fill="#000"/>
<circle cx="204.22" cy="174.56" r="1.75" fill="#000"/>
<circle cx="225.16" cy="342.04" r="1.75" fill="#000"/>
<circle cx="245.25" cy="193.52" r="1.75" fill="#000"/>
<circle cx="264.54" cy="325.18" r="1.75" fill="#000"/>
<circle cx="284.62" cy="170.35" r="1.75" fill="#000"/>
<circle cx="305.51" cy="352.57" r="1.75" fill="#000"/>
<circle cx="325.76" cy="179.83" r="1.75" fill="#000"/>
<circle cx="345.10" cy="335.72" r="1.75" fill="#000"/>
<circle cx="364.92" cy="159.81" r="1.75" fill="#000"/>
<circle cx="385.54" cy="370.47" r="1.75" fill="#000"/>
<circle cx="405.79" cy="159.81" r="1.75" fill="#000"/>
<circle cx="425.24" cy="352.57" r="1.75" fill="#000"/>
<circle cx="444.85" cy="142.96" r="1.75" fill="#000"/>
<circle cx="465.20" cy="390.49" r="1.75" fill="#000"/>
<circle cx="485.39" cy="136.64" r="1.75" fill="#000"/>
<circle cx="504.90" cy="372.58" r="1.75" fill="#000"/>
<circle cx="524.40" cy="127.16" r="1.75" fill="#000"/>
<circle cx="544.59" cy="409.45" r="1.75" fill="#000"/>
<circle cx="564.73" cy="114.52" r="1.75" fill="#000"/>
<circle cx="584.29" cy="391.54" r="1.75" fill="#000"/>
<circle cx="603.79" cy="112.42" r="1.75" fill="#000"/>
<circle cx="623.72" cy="424.19" r="1.75" fill="#000"/>
<circle cx="643.86" cy="98.72" r="1.75" fill="#000"/>
<circle cx="663.52" cy="405.23" r="1.75" fill="#000"/>
<circle cx="682.97" cy="105.04" r="1.75" fill="#000"/>
<circle cx="702.80" cy="430.51" r="1.75" fill="#000"/>
<path d="M410.85,250.2 L419.85,250.2 L415.35,257.7 Z" fill="#f2e63a" stroke="#a07820" stroke-width="0.7"/>
<g font-size="9.33" fill="#000">
<polygon points="77.43,467.40 79.36,472.23 84.56,472.58 80.56,475.92 81.83,480.97 77.43,478.20 73.02,480.97 74.29,475.92 70.29,472.58 75.49,472.23" fill="#8a5a1e"/><circle cx="77.43" cy="474.90" r="3.85" fill="#e8993a" stroke="#b4b030" stroke-width="0.9"/>
<text x="84.23" y="478.30">6:30am</text>
<polygon points="153.95,467.40 155.89,472.23 161.08,472.58 157.09,475.92 158.36,480.97 153.95,478.20 149.54,480.97 150.81,475.92 146.82,472.58 152.01,472.23" fill="#8a5a1e"/><circle cx="153.95" cy="474.90" r="3.85" fill="#e8993a" stroke="#b4b030" stroke-width="0.9"/>
<text x="160.75" y="478.30">6:30am</text>
<polygon points="230.53,467.40 232.47,472.23 237.66,472.58 233.66,475.92 234.93,480.97 230.53,478.20 226.12,480.97 227.39,475.92 223.39,472.58 228.59,472.23" fill="#8a5a1e"/><circle cx="230.53" cy="474.90" r="3.85" fill="#e8993a" stroke="#b4b030" stroke-width="0.9"/>
<text x="237.33" y="478.30">6:31am</text>
<polygon points="307.05,467.40 308.99,472.23 314.18,472.58 310.19,475.92 311.46,480.97 307.05,478.20 302.64,480.97 303.91,475.92 299.92,472.58 305.11,472.23" fill="#8a5a1e"/><circle cx="307.05" cy="474.90" r="3.85" fill="#e8993a" stroke="#b4b030" stroke-width="0.9"/>
<text x="313.85" y="478.30">6:31am</text>
<polygon points="383.57,467.40 385.51,472.23 390.71,472.58 386.71,475.92 387.98,480.97 383.57,478.20 379.17,480.97 380.44,475.92 376.44,472.58 381.63,472.23" fill="#8a5a1e"/><circle cx="383.57" cy="474.90" r="3.85" fill="#e8993a" stroke="#b4b030" stroke-width="0.9"/>
<text x="390.37" y="478.30">6:31am</text>
<polygon points="460.10,467.40 462.04,472.23 467.23,472.58 463.24,475.92 464.51,480.97 460.10,478.20 455.69,480.97 456.96,475.92 452.97,472.58 458.16,472.23" fill="#8a5a1e"/><circle cx="460.10" cy="474.90" r="3.85" fill="#e8993a" stroke="#b4b030" stroke-width="0.9"/>
<text x="466.90" y="478.30">6:31am</text>
<polygon points="536.62,467.40 538.56,472.23 543.76,472.58 539.76,475.92 541.03,480.97 536.62,478.20 532.21,480.97 533.48,475.92 529.49,472.58 534.68,472.23" fill="#8a5a1e"/><circle cx="536.62" cy="474.90" r="3.85" fill="#e8993a" stroke="#b4b030" stroke-width="0.9"/>
<text x="543.42" y="478.30">6:31am</text>
<polygon points="613.20,467.40 615.14,472.23 620.33,472.58 616.34,475.92 617.61,480.97 613.20,478.20 608.79,480.97 610.06,475.92 606.07,472.58 611.26,472.23" fill="#8a5a1e"/><circle cx="613.20" cy="474.90" r="3.85" fill="#e8993a" stroke="#b4b030" stroke-width="0.9"/>
<text x="620.00" y="478.30">6:32am</text>
<polygon points="689.72,467.40 691.66,472.23 696.86,472.58 692.86,475.92 694.13,480.97 689.72,478.20 685.32,480.97 686.59,475.92 682.59,472.58 687.78,472.23" fill="#8a5a1e"/><circle cx="689.72" cy="474.90" r="3.85" fill="#e8993a" stroke="#b4b030" stroke-width="0.9"/>
<text x="696.52" y="478.30">6:32am</text>
<polygon points="116.22,481.30 118.16,486.13 123.35,486.48 119.36,489.82 120.63,494.87 116.22,492.10 111.81,494.87 113.08,489.82 109.09,486.48 114.28,486.13" fill="#7c4a1a"/><circle cx="116.22" cy="488.80" r="3.85" fill="#e23826" stroke="#7d7420" stroke-width="0.9"/>
<text x="123.02" y="492.50">6:40pm</text>
<polygon points="192.74,481.30 194.68,486.13 199.88,486.48 195.88,489.82 197.15,494.87 192.74,492.10 188.33,494.87 189.60,489.82 185.61,486.48 190.80,486.13" fill="#7c4a1a"/><circle cx="192.74" cy="488.80" r="3.85" fill="#e23826" stroke="#7d7420" stroke-width="0.9"/>
<text x="199.54" y="492.50">6:40pm</text>
<polygon points="269.27,481.30 271.21,486.13 276.40,486.48 272.41,489.82 273.68,494.87 269.27,492.10 264.86,494.87 266.13,489.82 262.13,486.48 267.33,486.13" fill="#7c4a1a"/><circle cx="269.27" cy="488.80" r="3.85" fill="#e23826" stroke="#7d7420" stroke-width="0.9"/>
<text x="276.07" y="492.50">6:40pm</text>
<polygon points="345.79,481.30 347.73,486.13 352.92,486.48 348.93,489.82 350.20,494.87 345.79,492.10 341.38,494.87 342.65,489.82 338.66,486.48 343.85,486.13" fill="#7c4a1a"/><circle cx="345.79" cy="488.80" r="3.85" fill="#e23826" stroke="#7d7420" stroke-width="0.9"/>
<text x="352.59" y="492.50">6:40pm</text>
<polygon points="422.31,481.30 424.25,486.13 429.45,486.48 425.45,489.82 426.72,494.87 422.31,492.10 417.91,494.87 419.18,489.82 415.18,486.48 420.37,486.13" fill="#7c4a1a"/><circle cx="422.31" cy="488.80" r="3.85" fill="#e23826" stroke="#7d7420" stroke-width="0.9"/>
<text x="429.11" y="492.50">6:40pm</text>
<polygon points="498.89,481.30 500.83,486.13 506.02,486.48 502.03,489.82 503.30,494.87 498.89,492.10 494.48,494.87 495.75,489.82 491.76,486.48 496.95,486.13" fill="#7c4a1a"/><circle cx="498.89" cy="488.80" r="3.85" fill="#e23826" stroke="#7d7420" stroke-width="0.9"/>
<text x="505.69" y="492.50">6:41pm</text>
<polygon points="575.42,481.30 577.36,486.13 582.55,486.48 578.55,489.82 579.82,494.87 575.42,492.10 571.01,494.87 572.28,489.82 568.28,486.48 573.48,486.13" fill="#7c4a1a"/><circle cx="575.42" cy="488.80" r="3.85" fill="#e23826" stroke="#7d7420" stroke-width="0.9"/>
<text x="582.22" y="492.50">6:41pm</text>
<polygon points="651.94,481.30 653.88,486.13 659.07,486.48 655.08,489.82 656.35,494.87 651.94,492.10 647.53,494.87 648.80,489.82 644.81,486.48 650.00,486.13" fill="#7c4a1a"/><circle cx="651.94" cy="488.80" r="3.85" fill="#e23826" stroke="#7d7420" stroke-width="0.9"/>
<text x="658.74" y="492.50">6:41pm</text>
<circle cx="136.84" cy="501.9" r="4.95" fill="#ffffcc" stroke="#777" stroke-width="1"/>
<text x="143.64" y="505.30">1:08am</text>
<circle cx="216.28" cy="501.9" r="4.95" fill="#ffffcc" stroke="#777" stroke-width="1"/>
<text x="223.08" y="505.30">2:03am</text>
<circle cx="295.94" cy="501.9" r="4.95" fill="#ffffcc" stroke="#777" stroke-width="1"/>
<text x="302.74" y="505.30">3:02am</text>
<circle cx="375.71" cy="501.9" r="4.95" fill="#ffffcc" stroke="#777" stroke-width="1"/>
<text x="382.51" y="505.30">4:03am</text>
<circle cx="455.48" cy="501.9" r="4.95" fill="#ffffcc" stroke="#777" stroke-width="1"/>
<text x="462.28" y="505.30">5:04am</text>
<circle cx="535.24" cy="501.9" r="4.95" fill="#ffffcc" stroke="#777" stroke-width="1"/>
<text x="542.04" y="505.30">6:05am</text>
<circle cx="614.90" cy="501.9" r="4.95" fill="#ffffcc" stroke="#777" stroke-width="1"/>
<text x="621.70" y="505.30">7:04am</text>
<circle cx="694.45" cy="501.9" r="4.95" fill="#ffffcc" stroke="#777" stroke-width="1"/>
<text x="701.25" y="505.30">8:01am</text>
<circle cx="97.19" cy="515.6" r="4.95" fill="#ccccb0" stroke="#707070" stroke-width="1"/>
<text x="103.89" y="519.60">12:42pm</text>
<circle cx="176.59" cy="515.6" r="4.95" fill="#ccccb0" stroke="#707070" stroke-width="1"/>
<text x="183.29" y="519.60">1:36pm</text>
<circle cx="256.14" cy="515.6" r="4.95" fill="#ccccb0" stroke="#707070" stroke-width="1"/>
<text x="262.84" y="519.60">2:33pm</text>
<circle cx="335.85" cy="515.6" r="4.95" fill="#ccccb0" stroke="#707070" stroke-width="1"/>
<text x="342.55" y="519.60">3:33pm</text>
<circle cx="415.62" cy="515.6" r="4.95" fill="#ccccb0" stroke="#707070" stroke-width="1"/>
<text x="422.32" y="519.60">4:34pm</text>
<circle cx="495.44" cy="515.6" r="4.95" fill="#ccccb0" stroke="#707070" stroke-width="1"/>
<text x="502.14" y="519.60">5:36pm</text>
<circle cx="575.10" cy="515.6" r="4.95" fill="#ccccb0" stroke="#707070" stroke-width="1"/>
<text x="581.80" y="519.60">6:35pm</text>
<circle cx="654.70" cy="515.6" r="4.95" fill="#ccccb0" stroke="#707070" stroke-width="1"/>
<text x="661.40" y="519.60">7:33pm</text>
<text x="1.5" y="533" font-size="9.45">Last Quarter | 12:18am</text>
<text x="519.6" y="533" font-size="9.45">New Moon | 4:38pm</text>
</g>
<g font-size="11" fill="#000">
<text x="65" y="478.70" text-anchor="end">Sunrise</text>
<text x="65" y="492.40" text-anchor="end">Sunset</text>
<text x="65" y="505.50" text-anchor="end">Moonrise</text>
<text x="65" y="519.70" text-anchor="end">Moonset</text>
<text x="765.1" y="478.70">Sunrise</text>
<text x="765.1" y="493.20">Sunset</text>
<text x="765.1" y="505.90">Moonrise</text>
<text x="765.1" y="519.70">Moonset</text>
</g>
</svg>
</body></html>
